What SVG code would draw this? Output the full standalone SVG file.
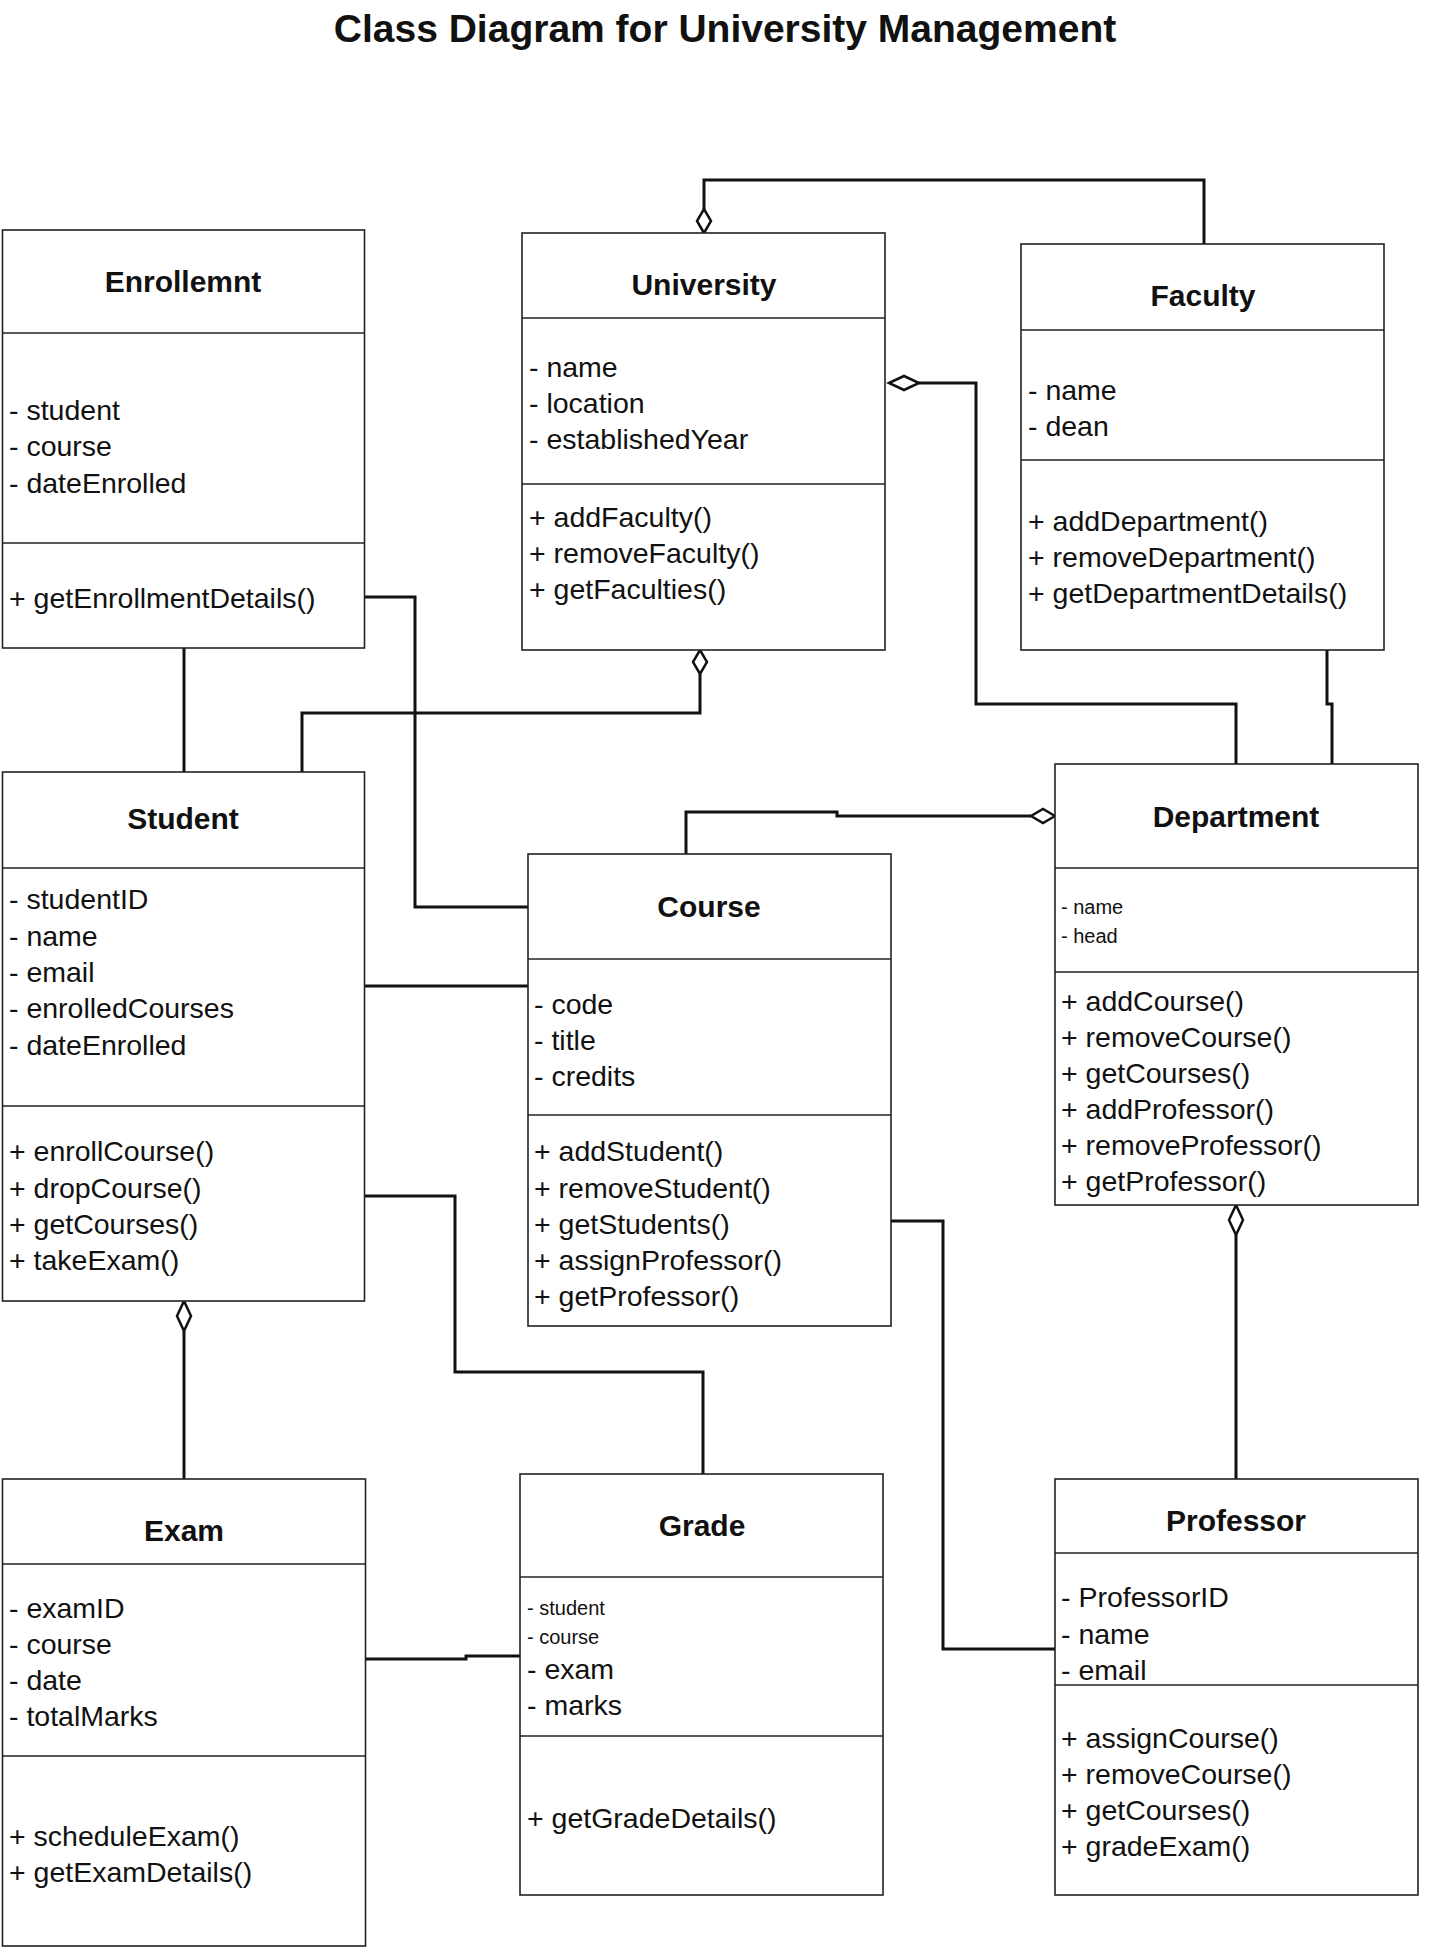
<svg xmlns="http://www.w3.org/2000/svg" width="1450" height="1950" viewBox="0 0 1450 1950">
<style>
.box{fill:#fff;stroke:#222;stroke-width:1.6}
.div{stroke:#222;stroke-width:1.6}
.t{font-family:"Liberation Sans",Arial,sans-serif;font-size:30px;font-weight:bold;text-anchor:middle;fill:#111}
.a{font-family:"Liberation Sans",Arial,sans-serif;font-size:28.5px;fill:#111}
.s{font-family:"Liberation Sans",Arial,sans-serif;font-size:20px;fill:#111}
.c{fill:none;stroke:#111;stroke-width:3}
.d{fill:#fff;stroke:#111;stroke-width:2.5}
</style>
<rect width="1450" height="1950" fill="#fff"/>
<text x="725" y="42" font-family="Liberation Sans,Arial,sans-serif" font-size="39" font-weight="bold" text-anchor="middle" fill="#111">Class Diagram for University Management</text>
<g id="connectors">
<polyline class="c" points="704,209 704,180 1204,180 1204,244"/>
<polygon class="d" points="704,233 697,221 704,209 711,221"/>
<polyline class="c" points="919,383 976,383 976,704 1236,704 1236,764"/>
<polygon class="d" points="889,383 904,376 919,383 904,390"/>
<polyline class="c" points="1327,650 1327,704 1332,704 1332,764"/>
<polyline class="c" points="700,674 700,713 302,713 302,772"/>
<polygon class="d" points="700,650 693,662 700,674 707,662"/>
<polyline class="c" points="364,597 415,597 415,907 528,907"/>
<polyline class="c" points="184,648 184,772"/>
<polyline class="c" points="364,986 528,986"/>
<polyline class="c" points="686,854 686,812 837,812 837,816 1031,816"/>
<polygon class="d" points="1055,816 1043,809 1031,816 1043,823"/>
<polyline class="c" points="364,1196 455,1196 455,1372 703,1372 703,1474"/>
<polyline class="c" points="184,1331 184,1479"/>
<polygon class="d" points="184,1301 177,1316 184,1331 191,1316"/>
<polyline class="c" points="366,1659 466,1659 466,1656 520,1656"/>
<polyline class="c" points="890,1221 943,1221 943,1649 1055,1649"/>
<polyline class="c" points="1236,1235 1236,1479"/>
<polygon class="d" points="1236,1205 1229,1220 1236,1235 1243,1220"/>
</g>
<g id="enrollment">
<rect class="box" x="2.5" y="230" width="362" height="418"/>
<line class="div" x1="2.5" y1="333" x2="364.5" y2="333"/><line class="div" x1="2.5" y1="543" x2="364.5" y2="543"/>
<text class="t" x="183" y="292">Enrollemnt</text>
<text class="a" x="9" y="420">- student</text><text class="a" x="9" y="456">- course</text><text class="a" x="9" y="493">- dateEnrolled</text>
<text class="a" x="9" y="608">+ getEnrollmentDetails()</text>
</g>
<g id="university">
<rect class="box" x="522" y="233" width="363" height="417"/>
<line class="div" x1="522" y1="318" x2="885" y2="318"/><line class="div" x1="522" y1="484" x2="885" y2="484"/>
<text class="t" x="704" y="295">University</text>
<text class="a" x="529" y="377">- name</text><text class="a" x="529" y="413">- location</text><text class="a" x="529" y="449">- establishedYear</text>
<text class="a" x="529" y="527">+ addFaculty()</text><text class="a" x="529" y="563">+ removeFaculty()</text><text class="a" x="529" y="599">+ getFaculties()</text>
</g>
<g id="faculty">
<rect class="box" x="1021" y="244" width="363" height="406"/>
<line class="div" x1="1021" y1="330" x2="1384" y2="330"/><line class="div" x1="1021" y1="460" x2="1384" y2="460"/>
<text class="t" x="1203" y="306">Faculty</text>
<text class="a" x="1028" y="400">- name</text><text class="a" x="1028" y="436">- dean</text>
<text class="a" x="1028" y="531">+ addDepartment()</text><text class="a" x="1028" y="567">+ removeDepartment()</text><text class="a" x="1028" y="603">+ getDepartmentDetails()</text>
</g>
<g id="student">
<rect class="box" x="2.5" y="772" width="362" height="529"/>
<line class="div" x1="2.5" y1="868" x2="364.5" y2="868"/><line class="div" x1="2.5" y1="1106" x2="364.5" y2="1106"/>
<text class="t" x="183" y="829">Student</text>
<text class="a" x="9" y="909">- studentID</text><text class="a" x="9" y="946">- name</text><text class="a" x="9" y="982">- email</text><text class="a" x="9" y="1018">- enrolledCourses</text><text class="a" x="9" y="1055">- dateEnrolled</text>
<text class="a" x="9" y="1161">+ enrollCourse()</text><text class="a" x="9" y="1198">+ dropCourse()</text><text class="a" x="9" y="1234">+ getCourses()</text><text class="a" x="9" y="1270">+ takeExam()</text>
</g>
<g id="course">
<rect class="box" x="528" y="854" width="363" height="472"/>
<line class="div" x1="528" y1="959" x2="891" y2="959"/><line class="div" x1="528" y1="1115" x2="891" y2="1115"/>
<text class="t" x="709" y="917">Course</text>
<text class="a" x="534" y="1014">- code</text><text class="a" x="534" y="1050">- title</text><text class="a" x="534" y="1086">- credits</text>
<text class="a" x="534" y="1161">+ addStudent()</text><text class="a" x="534" y="1198">+ removeStudent()</text><text class="a" x="534" y="1234">+ getStudents()</text><text class="a" x="534" y="1270">+ assignProfessor()</text><text class="a" x="534" y="1306">+ getProfessor()</text>
</g>
<g id="department">
<rect class="box" x="1055" y="764" width="363" height="441"/>
<line class="div" x1="1055" y1="868" x2="1418" y2="868"/><line class="div" x1="1055" y1="972" x2="1418" y2="972"/>
<text class="t" x="1236" y="827">Department</text>
<text class="s" x="1061" y="914">- name</text><text class="s" x="1061" y="943">- head</text>
<text class="a" x="1061" y="1011">+ addCourse()</text><text class="a" x="1061" y="1047">+ removeCourse()</text><text class="a" x="1061" y="1083">+ getCourses()</text><text class="a" x="1061" y="1119">+ addProfessor()</text><text class="a" x="1061" y="1155">+ removeProfessor()</text><text class="a" x="1061" y="1191">+ getProfessor()</text>
</g>
<g id="exam">
<rect class="box" x="2.5" y="1479" width="363" height="467"/>
<line class="div" x1="2.5" y1="1564" x2="365.5" y2="1564"/><line class="div" x1="2.5" y1="1756" x2="365.5" y2="1756"/>
<text class="t" x="184" y="1541">Exam</text>
<text class="a" x="9" y="1618">- examID</text><text class="a" x="9" y="1654">- course</text><text class="a" x="9" y="1690">- date</text><text class="a" x="9" y="1726">- totalMarks</text>
<text class="a" x="9" y="1846">+ scheduleExam()</text><text class="a" x="9" y="1882">+ getExamDetails()</text>
</g>
<g id="grade">
<rect class="box" x="520" y="1474" width="363" height="421"/>
<line class="div" x1="520" y1="1577" x2="883" y2="1577"/><line class="div" x1="520" y1="1736" x2="883" y2="1736"/>
<text class="t" x="702" y="1536">Grade</text>
<text class="s" x="527" y="1615">- student</text><text class="s" x="527" y="1644">- course</text>
<text class="a" x="527" y="1679">- exam</text><text class="a" x="527" y="1715">- marks</text>
<text class="a" x="527" y="1828">+ getGradeDetails()</text>
</g>
<g id="professor">
<rect class="box" x="1055" y="1479" width="363" height="416"/>
<line class="div" x1="1055" y1="1553" x2="1418" y2="1553"/><line class="div" x1="1055" y1="1685" x2="1418" y2="1685"/>
<text class="t" x="1236" y="1531">Professor</text>
<text class="a" x="1061" y="1607">- ProfessorID</text><text class="a" x="1061" y="1644">- name</text><text class="a" x="1061" y="1680">- email</text>
<text class="a" x="1061" y="1748">+ assignCourse()</text><text class="a" x="1061" y="1784">+ removeCourse()</text><text class="a" x="1061" y="1820">+ getCourses()</text><text class="a" x="1061" y="1856">+ gradeExam()</text>
</g>
</svg>
